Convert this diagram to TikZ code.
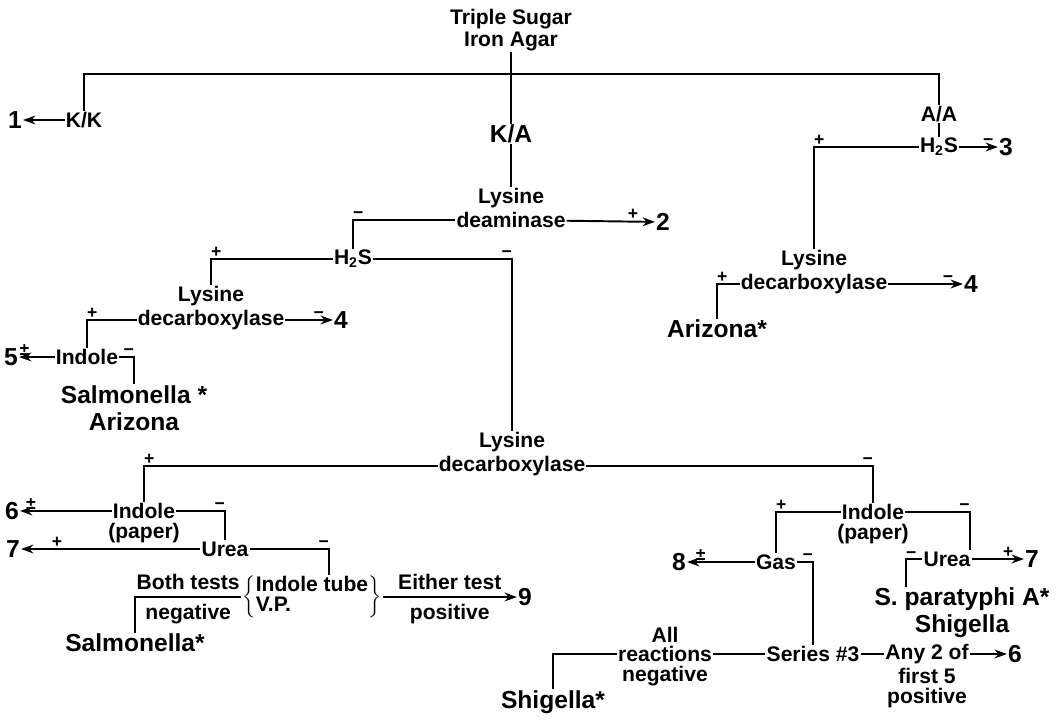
\documentclass[tikz,border=0pt]{standalone}
\usepackage{fontspec}
\setmainfont{Liberation Sans}
\usetikzlibrary{arrows.meta,positioning,calc}

\begin{document}
\begin{tikzpicture}[x=0.02cm, y=-0.02cm,
  font=\bfseries\fontsize{12}{12.5}\selectfont,
  txt/.style={inner sep=0.5pt, align=center},
  big/.style={inner sep=0.5pt, align=center, font=\bfseries\fontsize{14}{15.5}\selectfont},
  sgn/.style={inner sep=0.5pt, font=\bfseries\fontsize{10}{10}\selectfont},
  lsign/.style={sgn, anchor=south, xshift=3pt},
  rsign/.style={sgn, anchor=south, xshift=-3pt},
  wire/.style={line width=1.1pt},
  arr/.style={wire, -{Stealth[length=7pt,width=5pt]}}
]
\useasboundingbox (0,0) rectangle (1058,727);

% TSI agar and first split
\node[txt] (tsia) at (511,30) {Triple Sugar\\Iron Agar};
\node[big] (ka) at (511,134) {K/A};
\node[txt] (kk) at (84,120) {K/K};
\node[big] (n1) at (15,120) {1};
\node[txt] (aa) at (939,114) {A/A};
\node[txt] (h2sR) at (939,147) {H\textsubscript{2}S};
\node[big] (n3) at (1006,147) {3};
\coordinate (bar) at (511,74);

\draw[wire] (tsia) -- (ka);
\draw[wire] (kk) |- (bar) -| (aa);
\draw[arr] (kk) -- (n1);
\draw[wire] (aa) -- (h2sR);
\draw[arr] (h2sR) -- node[sgn, pos=.75, above] (m3) {−} (n3);

% A/A branch
\node[txt] (ldcR) at (814,284) {decarboxylase};
\node[txt, above=1pt of ldcR] (ldcRa) {Lysine};
\node[big] (n4R) at (971,284) {4};
\node[big] (ariz) at (717,329) {Arizona*};
\draw[wire] (h2sR) -| node[lsign] (p3) {+} (ldcRa);
\draw[arr] (ldcR) -- node[sgn, pos=.8, above] (m4R) {−} (n4R);
\draw[wire] (ldcR) -| node[lsign] (p4R) {+} (ariz);

% K/A branch
\node[txt] (ld) at (511,220) {deaminase};
\node[txt, above=1pt of ld] (lda) {Lysine};
\node[big] (n2) at (663,222) {2};
\draw[wire] (ka) -- (lda);
\draw[arr] (ld) -- node[sgn, pos=.75, above] (p2) {+} (n2);

\node[txt] (h2sM) at (353,259) {H\textsubscript{2}S};
\draw[wire] (ld) -| node[lsign] (m2) {−} (h2sM);

\node[txt] (ldcL) at (211,320) {decarboxylase};
\node[txt, above=1pt of ldcL] (ldcLa) {Lysine};
\node[big] (n4L) at (341,320) {4};
\draw[wire] (h2sM) -| node[lsign] (p4) {+} (ldcLa);
\draw[arr] (ldcL) -- node[sgn, pos=.7, above] (m4) {−} (n4L);

\node[txt] (indA) at (87,357) {Indole};
\node[big] (n5) at (11,357) {5};
\node[big] (salA) at (134,408) {Salmonella *\\Arizona};
\draw[wire] (ldcL) -| node[lsign] (p5) {+} (indA);
\draw[arr] (indA) -- node[sgn, pos=.85, above] (pm5) {±} (n5);
\draw[wire] (indA) -| node[rsign] (m5) {−} (salA);

% H2S negative
\node[txt] (ldcB) at (512,466) {decarboxylase};
\node[txt, above=1pt of ldcB] (ldcBa) {Lysine};
\draw[wire] (h2sM) -| node[rsign] (m6) {−} (ldcBa);

% lysine decarboxylase positive
\node[txt] (indB) at (144,511) {Indole};
\node[txt, below=1pt of indB] (papB) {(paper)};
\node[big] (n6) at (12,511) {6};
\draw[wire] (ldcB) -| node[lsign] (p6) {+} (indB);
\draw[arr] (indB) -- node[sgn, pos=.88, above] (pm6) {±} (n6);

\node[txt] (ureaB) at (225,549) {Urea};
\node[big] (n7) at (13,549) {7};
\draw[wire] (indB) -| node[rsign] (m7) {−} (ureaB);
\draw[arr] (ureaB) -- node[sgn, pos=.8, above] (p7) {+} (n7);

\renewcommand\arraystretch{0.85}
\node[txt] (vp) at (312,597)
  {$\left\{\mbox{\begin{tabular}{@{}l@{}}Indole tube\\V.P.\end{tabular}}\right\}$};
\node[big] (sal2) at (135,643) {Salmonella*};
\node[big] (n9) at (525,597) {9};
\draw[wire] (ureaB) -| node[rsign] (m8) {−} ($(vp.north)+(17,0)$);
\draw[wire] (vp) -| node[pos=.25, above] (bt) {Both tests}
  node[pos=.25, below] (neg) {negative} (sal2);
\draw[arr] (vp) -- node[above] (et) {Either test}
  node[below] (pv) {positive} (n9);

% lysine decarboxylase negative
\node[txt] (indC) at (873,512) {Indole};
\node[txt, below=1pt of indC] (papC) {(paper)};
\draw[wire] (ldcB) -| node[rsign] (m9) {−} (indC);

\node[txt] (gas) at (776,562) {Gas};
\node[big] (n8) at (679,562) {8};
\draw[wire] (indC) -| node[lsign] (p9) {+} (gas);
\draw[arr] (gas) -- node[sgn, pos=.8, above] (pm8) {±} (n8);

\node[txt] (ureaC) at (947,559) {Urea};
\node[big] (n7R) at (1032,559) {7};
\node[big] (spA) at (962,613) {S. paratyphi A*\\Shigella};
\draw[wire] (indC) -| node[rsign] (m10) {−} ($(ureaC.north east)+(-2,0)$);
\draw[arr] (ureaC) -- node[sgn, pos=.7, above] (p10) {+} (n7R);
\draw[wire] (ureaC) -| node[lsign, yshift=-1pt] (m11) {−} ($(spA.north)+(-56,0)$);

\node[txt] (ser) at (813,654) {Series \#3};
\draw[wire] (gas) -| node[rsign] (m12) {−} (ser);
\node[txt] (rx) at (665,654) {reactions};
\node[txt, above=1pt of rx] (rxa) {All};
\node[txt, below=1pt of rx] (rxn) {negative};
\node[big] (shg) at (553,702) {Shigella*};
\draw[wire] (ser) -- (rx);
\draw[wire] (rx) -| (shg);

\node[txt] (any) at (927,654) {Any 2 of};
\node[txt, below=1pt of any] (any2) {first 5};
\node[txt, below=1pt of any2] (any3) {positive};
\node[big] (n6R) at (1015,654) {6};
\draw[wire] (ser) -- (any);
\draw[arr] (any) -- (n6R);
\end{tikzpicture}
\end{document}
